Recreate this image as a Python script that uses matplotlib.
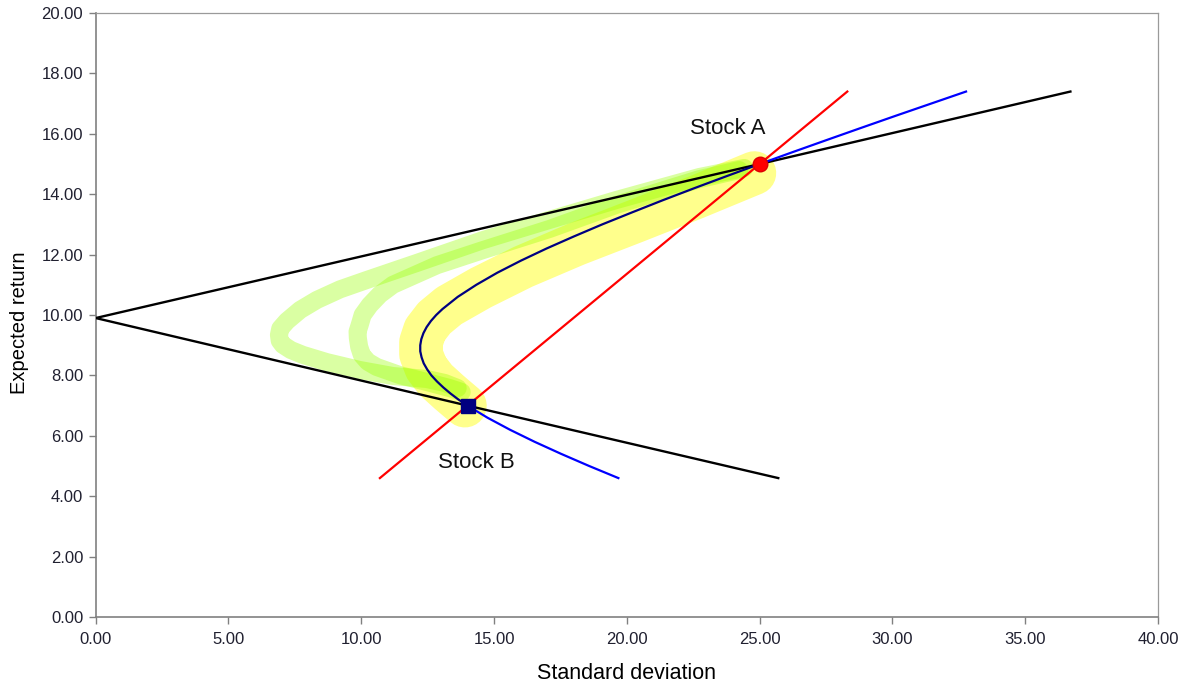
import matplotlib
matplotlib.use("Agg")
import matplotlib.pyplot as plt
from matplotlib.ticker import MultipleLocator, FormatStrFormatter

# ---- data ----
stock_names = ["Stock A", "Stock B"]
stock_sd = [25.0, 14.0]
stock_er = [15.0, 7.0]

# correlation +1 (red)
red_sd = [10.7, 14.0, 25.0, 28.3]
red_er = [4.6, 7.0, 15.0, 17.4]

# correlation -1 (black)
black_sd = [25.7, 14.0, 0.0, 25.0, 36.7]
black_er = [4.6, 7.0, 9.9, 15.0, 17.4]

# correlation 0 (blue): below B, between B and A, above A
blue_lo_sd = [19.68, 18.58, 17.53, 16.53, 15.60, 14.75, 14.0]
blue_lo_er = [4.6, 5.0, 5.4, 5.8, 6.2, 6.6, 7.0]
blue_mid_sd = [14.0, 13.66, 13.36, 13.09, 12.85, 12.64, 12.48, 12.35, 12.27, 12.22,
               12.22, 12.26, 12.34, 12.46, 12.62, 12.82, 13.06, 13.63, 14.33, 15.12,
               16.01, 16.97, 18.00, 19.07, 20.20, 21.35, 22.54, 23.76, 25.0]
blue_mid_er = [7.0, 7.2, 7.4, 7.6, 7.8, 8.0, 8.2, 8.4, 8.6, 8.8,
               9.0, 9.2, 9.4, 9.6, 9.8, 10.0, 10.2, 10.6, 11.0, 11.4,
               11.8, 12.2, 12.6, 13.0, 13.4, 13.8, 14.2, 14.6, 15.0]
blue_hi_sd = [25.0, 26.26, 27.54, 28.83, 30.13, 31.45, 32.77]
blue_hi_er = [15.0, 15.4, 15.8, 16.2, 16.6, 17.0, 17.4]

# hand-drawn highlighter strokes
yellow_sd = [13.9, 13.3, 12.8, 12.45, 12.25, 12.25, 12.4, 12.75, 13.3, 14.5,
             16.1, 18.1, 20.3, 22.6, 24.8]
yellow_er = [7.0, 7.45, 7.85, 8.25, 8.7, 9.1, 9.5, 9.9, 10.3, 10.9,
             11.6, 12.35, 13.1, 13.9, 14.7]
green_outer_sd = [24.42, 22.73, 19.61, 17.09, 14.58, 12.08, 10.21, 9.2, 8.33, 7.7,
                  7.2, 6.95, 6.90, 6.93, 7.05, 7.35, 7.80, 8.70, 9.94, 11.19,
                  12.47, 13.14, 13.63]
green_outer_er = [14.87, 14.57, 13.81, 13.15, 12.48, 11.72, 11.16, 10.85, 10.50, 10.17,
                  9.80, 9.55, 9.34, 9.15, 9.01, 8.84, 8.68, 8.44, 8.18, 7.98,
                  7.88, 7.75, 7.58]
green_mid_sd = [24.23, 22.73, 19.61, 17.09, 14.58, 12.85, 11.19, 10.7, 10.32, 10.05,
                9.94, 9.86, 9.87, 9.92, 10.02, 10.25, 10.58, 11.45, 12.47, 13.33, 13.78]
green_mid_er = [14.80, 14.50, 13.65, 12.85, 12.15, 11.65, 11.0, 10.68, 10.33, 10.0,
                9.67, 9.45, 9.24, 8.95, 8.68, 8.45, 8.28, 8.01, 7.78, 7.58, 7.45]

x_label = "Standard deviation"
y_label = "Expected return"

# ---- figure ----
plt.rcParams['font.family'] = ['Liberation Sans', 'DejaVu Sans']
fig = plt.figure(figsize=(11.8, 6.86), dpi=100)
ax = fig.add_axes([0.0811, 0.1006, 0.9003, 0.8804])

hl = dict(solid_capstyle='round', solid_joinstyle='round', zorder=1)
ax.plot(yellow_sd, yellow_er, color='#FFFF00', alpha=0.45, lw=31.5, **hl)
ax.plot(green_outer_sd, green_outer_er, color='#99FF00', alpha=0.36, lw=13, **hl)
ax.plot(green_mid_sd, green_mid_er, color='#99FF00', alpha=0.36, lw=13, **hl)

ax.plot(black_sd, black_er, color='black', lw=1.7, zorder=3)
ax.plot(red_sd, red_er, color='#FF0000', lw=1.6, zorder=3)
ax.plot(blue_lo_sd, blue_lo_er, color='#0000FF', lw=1.6, zorder=3)
ax.plot(blue_hi_sd, blue_hi_er, color='#0000FF', lw=1.6, zorder=3)
ax.plot(blue_mid_sd, blue_mid_er, color='#000080', lw=1.6, zorder=3)

ax.plot(stock_sd[0], stock_er[0], 'o', color='#FF0000', ms=10.5, mec='#DD0000', zorder=5)
ax.plot(stock_sd[1], stock_er[1], 's', color='#000080', ms=10.5, zorder=5)

ax.text(23.79, 16.19, stock_names[0], fontsize=16, ha='center', va='center', color='#111111')
ax.text(14.35, 5.10, stock_names[1], fontsize=16, ha='center', va='center', color='#111111')

ax.set_xlim(0, 40)
ax.set_ylim(0, 20)
ax.xaxis.set_major_locator(MultipleLocator(5))
ax.yaxis.set_major_locator(MultipleLocator(2))
ax.xaxis.set_major_formatter(FormatStrFormatter('%.2f'))
ax.yaxis.set_major_formatter(FormatStrFormatter('%.2f'))
ax.tick_params(direction='out', length=5, width=1, color='#808080',
               labelsize=12, labelcolor='#202030', pad=4)
ax.tick_params(axis='x', pad=6)
for side in ['left', 'bottom']:
    ax.spines[side].set_color('#808080')
    ax.spines[side].set_linewidth(1.2)
for side in ['top', 'right']:
    ax.spines[side].set_color('#9a9a9a')
    ax.spines[side].set_linewidth(0.9)

ax.set_xlabel(x_label, fontsize=15.5)
ax.set_ylabel(y_label, fontsize=14.5)
ax.xaxis.label.set_va('center')
ax.yaxis.label.set_va('center')
ax.xaxis.set_label_coords(0.5, -0.094)
ax.yaxis.set_label_coords(-0.0713, 0.487)

fig.savefig('out.png', dpi=100)
